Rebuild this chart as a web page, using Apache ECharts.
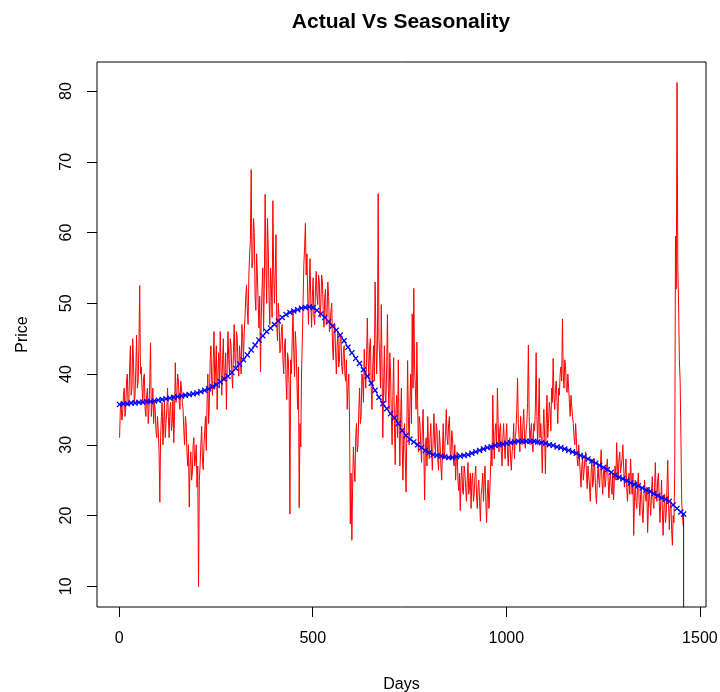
<!DOCTYPE html>
<html><head><meta charset="utf-8">
<script src="https://cdn.jsdelivr.net/npm/echarts@6/dist/echarts.min.js"></script>
<style>html,body{margin:0;padding:0;background:#fff}#c{width:720px;height:692px}</style>
</head><body><div id="c"></div>
<script>
const chartTitle = 'Actual Vs Seasonality';
const xName = 'Days';
const yName = 'Price';
const xTicks = [0, 500, 1000, 1500];
const yTicks = [10, 20, 30, 40, 50, 60, 70, 80];

// Actual price, read every 2 days starting at day 1
const actualStartDay = 1;
const actualStepDays = 2;
const actualPrice = [
31,35,36,33.5,34.5,37,38,34,35,39,40,35.5,36,41,44,37,38,45,42,36,
37,41,45.5,38,39,44,52.5,40,41,38,36,39.5,40,35,34,37,38,33,35,39,
44.4,34,36,38,33,36,35,32,31,34,32,29,21.9,31,34,36,30,33,36,31,
33,35,38,34,31,35,36,32,33,37,30.3,34,41.6,36,37,40,39,36,35,39,
38,36,35,32,30,34,33,29,27,30,21.2,27,29,25,26,30,31,27,28,30,
24,27,9.9,25,27,30,32.6,28,26.5,30,32,34,29.2,36,40,33,36,42,44,39,
37,42,46,38,41,44,35,40,43,38,46,41,37,42,45,39,40,43,35,41,
46,42,40,45,44,40,38,43,47,42,41,46,45,41,39.7,44,44,40,47,45,
42,46,48,51,52.6,49,47,54,57,59,68.9,55,56,62,60,51,49,57,54,50,
46.5,51,40.3,48,52,55,46,53,65.4,56,50,62,58,51,47,55,52.6,48,64.5,55,
50,54,59.7,47,44.7,50,48,43,43.3,46,47,42,40,44,45,39,36.4,43,42,38,
20.2,42,40,45,49,43,39.6,46,44,39,35,41,21.1,33,29.7,40,44.7,50,55.5,58,
61.3,54,57,51,47,52,56.3,50,46.6,51,53.6,48,47,52,54.5,51,49.8,54,53,48,
50,54,53,49,46.6,51,52,47,48.5,53,51,46,47,49,50,44,42,46,47,43,
40,44,46,41,42,45.5,45,41,40,43,44,40,39,42,35,38,40,34,18.8,26,
16.5,24,29.7,27,24.8,31,33,29,30,35,38,33,34,40,39,36,43.5,40,38,42,
47.9,42,39.6,44,45,38,35,41,44,39,53,46,40,44,65.5,45,42,38,49.8,41,
31,38,44,37,36,41,48.4,38,35,43,40,34,30,37,42.3,33,27.2,35,37,31,
42,33,27,34,38,30,25,31,33,28,23.3,32,41.9,34,30,36,40,33,48.5,38,
52.1,41,38,35,44.5,36,29,34,33,30,27.5,32,35,29,22.2,30,31,27,34,30,
28,31,33,29,26.4,31,34.4,30,29,33,32,28,26.4,32,30,27,25,29,33,28,
29,32,35,31,30,33,34,29,28,32,31,28,27,30,25,28,29,25,23.5,26,
20.7,25,27,23.5,23,27,26,24,22,25,27.5,23,24,26,21,25,26,22,23,25.5,
27,23,21,24,25,22,19.2,23,24,26,22,25,27,22,19,23,25,21,23,26,
30,27,37,31,28,32,33,30,38,33,29,32,33,29,27,31,33,30,28,31,
33,29,27,30,31,28,26.4,29,30,33,28,31,32,35,39.4,33,31,29,34,31,
30,33,35,31,29.5,32,33,36,44.1,34,30,32,33,30,29,33,32,35,43,34,
30,34,39.4,31,33,30,26,32,35,31,25.9,33,37,31,33,36,35,32,38,36,
42.2,37,35,38,39,36,33,38,37,40,41,39,47.8,40,38,42,41.2,38,37.4,40,
38,36,34,37,36.9,34,33,31,30,33,31,28,27,30,29.8,26,24,27,28,25,
25,28,29,26,23.8,27,27,24,22,26,28,24,25,28,26,23,21.7,25,27,25,
24,27,29.3,25,23,26,27,24,25,27,28,25,22.5,25,26,24,23,26,22.2,25,
27,25,30.3,27,25,28,29,26,26,28,30,27,24,26,28,24,22,25,26,23,
28,25,23,26,17.2,22,25,22,21,24,26,22,20,23,24,21,19,22,25,23,
22,24,17.6,21,24,22,20,23,25.5,22,21,24,27.5,23,22,25,26,22,19,22,
25,21,17.2,21,23,19,20,24,27.8,22,18,21,22,18,15.8,20,19,26,59.5,52,
81.2,55,50,42,39,31,22,20,18.5
];

// Seasonality, read every 10 days starting at day 1
const seasonStartDay = 1;
const seasonStepDays = 10;
const seasonPrice = [
35.7,35.8,35.8,35.9,35.9,36.0,36.0,36.1,36.1,36.2,
36.3,36.4,36.5,36.6,36.7,36.8,36.9,37.0,37.1,37.2,
37.3,37.5,37.7,37.9,38.2,38.5,38.9,39.3,39.7,40.2,
40.8,41.4,42.0,42.7,43.4,44.1,44.8,45.4,46.0,46.5,
47.0,47.5,48.0,48.4,48.7,48.9,49.1,49.3,49.4,49.5,
49.4,49.0,48.5,48.0,47.4,46.8,46.2,45.5,44.7,43.8,
43.0,42.2,41.5,40.6,39.7,38.7,37.7,36.7,35.8,35.1,
34.4,33.8,33.0,32.0,31.3,30.8,30.4,30.0,29.6,29.2,
28.9,28.6,28.5,28.4,28.3,28.2,28.2,28.3,28.4,28.5,
28.6,28.8,29.0,29.2,29.4,29.6,29.7,29.9,30.0,30.1,
30.2,30.3,30.4,30.5,30.5,30.5,30.5,30.5,30.4,30.3,
30.2,30.0,29.9,29.7,29.6,29.4,29.2,29.0,28.8,28.5,
28.3,28.0,27.7,27.4,27.1,26.8,26.5,26.1,25.7,25.4,
25.2,24.9,24.6,24.4,24.2,23.9,23.6,23.4,23.1,22.8,
22.5,22.3,22.0,21.5,21.0,20.5
];
const seasonTailDays = [1458, 1458];
const seasonTailPrice = [20.2, 0];

const actualData = actualPrice.map((v, i) => [actualStartDay + i * actualStepDays, v]);
const seasonData = seasonPrice.map((v, i) => [seasonStartDay + i * seasonStepDays, v])
  .concat(seasonTailDays.map((d, i) => [d, seasonTailPrice[i]]));

const FONT = "'Liberation Sans', Arial, sans-serif";
const chart = echarts.init(document.getElementById('c'), null, {renderer: 'canvas'});
chart.setOption({
  animation: false,
  backgroundColor: '#fff',
  title: {
    text: chartTitle, left: 396, top: 7, textAlign: 'center',
    textStyle: {fontFamily: FONT, fontSize: 21, fontWeight: 'bold', color: '#000'}
  },
  grid: {left: 97, top: 62, right: 14, bottom: 85, show: true, borderColor: '#000', borderWidth: 1,
         containLabel: false, outerBoundsMode: 'none'},
  xAxis: {
    type: 'value', min: -57.3, max: 1515.8,
    axisLine: {show: false, onZero: false}, splitLine: {show: false},
    axisTick: {show: true, customValues: xTicks, length: 10, lineStyle: {color: '#000'}},
    axisLabel: {customValues: xTicks, formatter: v => String(v), fontFamily: FONT, fontSize: 16, color: '#000', margin: 24},
    name: xName, nameLocation: 'middle', nameGap: 70,
    nameTextStyle: {fontFamily: FONT, fontSize: 16, color: '#000'}
  },
  yAxis: {
    type: 'value', min: 7.07, max: 84.1,
    axisLine: {show: false, onZero: false}, splitLine: {show: false},
    axisTick: {show: true, customValues: yTicks, length: 10, lineStyle: {color: '#000'}},
    axisLabel: {customValues: yTicks, formatter: v => String(v), rotate: 90, fontFamily: FONT, fontSize: 16, color: '#000', margin: 22},
    name: yName, nameLocation: 'middle', nameGap: 66,
    nameTextStyle: {fontFamily: FONT, fontSize: 16, color: '#000'}
  },
  series: [
    {type: 'line', data: actualData, showSymbol: false, symbol: 'none', sampling: null,
     lineStyle: {color: '#ff0000', width: 1}, itemStyle: {color: '#ff0000'}, z: 2},
    {type: 'line', data: seasonData, showSymbol: true,
     symbol: 'path://M0,1.5L1.5,0L5,3.5L8.5,0L10,1.5L6.5,5L10,8.5L8.5,10L5,6.5L1.5,10L0,8.5L3.5,5Z', symbolSize: 6,
     lineStyle: {color: '#0000ff', width: 1}, itemStyle: {color: '#0000ff'}, z: 3}
  ]
});
</script>
</body></html>
